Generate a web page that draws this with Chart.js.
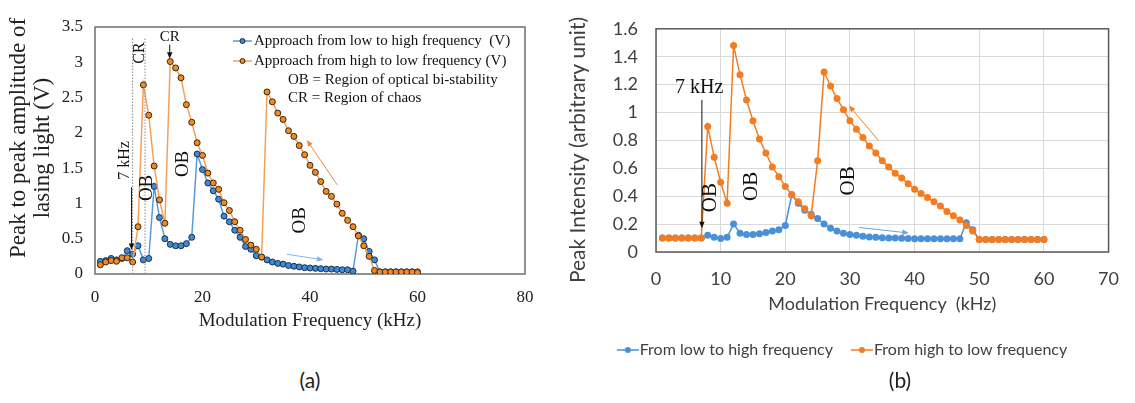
<!DOCTYPE html>
<html lang="en">
<head>
  <meta charset="UTF-8">
  <title>Modulation frequency response</title>
  <style>
    body {
      margin: 0;
      background: #fff;
      width: 1135px;
      height: 403px;
      position: relative;
      overflow: hidden;
    }
    #chartA { position: absolute; left: 0; top: 0; }
    #chartB { position: absolute; left: 560px; top: 0; }
    .tag {
      position: absolute;
      top: 367px;
      width: 60px;
      text-align: center;
      font-family: Lato, "Open Sans", sans-serif;
      font-size: 21px;
      color: #222;
    }
  </style>
</head>
<body>
  <canvas id="chartA" width="560" height="340"></canvas>
  <canvas id="chartB" width="575" height="368"></canvas>
  <div class="tag" style="left:280px">(a)</div>
  <div class="tag" style="left:870px">(b)</div>

  <script src="https://cdn.jsdelivr.net/npm/chart.js"></script>
  <script>
    // modulation frequency (kHz), same steps for both panels
    const freq = [1, 2, 3, 4, 5, 6, 7, 8, 9, 10,
                  11, 12, 13, 14, 15, 16, 17, 18, 19, 20,
                  21, 22, 23, 24, 25, 26, 27, 28, 29, 30,
                  31, 32, 33, 34, 35, 36, 37, 38, 39, 40,
                  41, 42, 43, 44, 45, 46, 47, 48, 49, 50,
                  51, 52, 53, 54, 55, 56, 57, 58, 59, 60];

    // (a) peak to peak amplitude (V)
    const ampLowHigh = [0.18, 0.19, 0.22, 0.20, 0.22, 0.33, 0.28, 0.40, 0.20, 0.22,
                        1.24, 0.80, 0.50, 0.42, 0.40, 0.40, 0.43, 0.52, 1.70, 1.48,
                        1.29, 1.18, 1.06, 0.82, 0.74, 0.62, 0.52, 0.39, 0.35, 0.26,
                        0.24, 0.20, 0.17, 0.15, 0.14, 0.12, 0.11, 0.10, 0.09, 0.085,
                        0.08, 0.075, 0.07, 0.07, 0.065, 0.06, 0.06, 0.04, 0.55, 0.50,
                        0.32, 0.20, 0.03, 0.03, 0.03, 0.03, 0.03, 0.03, 0.03, 0.03];
    const ampHighLow = [0.13, 0.17, 0.19, 0.18, 0.23, 0.23, 0.17, 0.67, 2.68, 2.25,
                        1.53, 1.05, 0.72, 3.01, 2.92, 2.78, 2.40, 2.15, 1.86, 1.68,
                        1.43, 1.29, 1.20, 1.01, 0.90, 0.74, 0.62, 0.49, 0.41, 0.35,
                        0.24, 2.58, 2.44, 2.28, 2.19, 2.03, 1.95, 1.82, 1.69, 1.54,
                        1.44, 1.31, 1.17, 1.10, 0.99, 0.86, 0.76, 0.67, 0.54, 0.40,
                        0.25, 0.05, 0.03, 0.03, 0.03, 0.03, 0.03, 0.03, 0.03, 0.02];

    // (b) peak intensity (arbitrary unit)
    const intLowHigh = [0.10, 0.10, 0.10, 0.10, 0.10, 0.10, 0.10, 0.12, 0.105, 0.097,
                        0.105, 0.20, 0.135, 0.125, 0.125, 0.13, 0.14, 0.15, 0.16, 0.19,
                        0.41, 0.35, 0.30, 0.27, 0.24, 0.20, 0.17, 0.15, 0.135, 0.125,
                        0.12, 0.113, 0.108, 0.105, 0.103, 0.10, 0.10, 0.098, 0.097, 0.095,
                        0.095, 0.095, 0.095, 0.095, 0.095, 0.095, 0.095, 0.21, 0.16, 0.09,
                        0.09, 0.09, 0.09, 0.09, 0.09, 0.09, 0.09, 0.09, 0.09, 0.09];
    const intHighLow = [0.10, 0.10, 0.10, 0.10, 0.10, 0.10, 0.10, 0.90, 0.68, 0.50,
                        0.35, 1.48, 1.27, 1.09, 0.94, 0.81, 0.71, 0.61, 0.54, 0.47,
                        0.41, 0.36, 0.31, 0.26, 0.655, 1.29, 1.19, 1.10, 1.02, 0.94,
                        0.88, 0.82, 0.76, 0.71, 0.655, 0.61, 0.565, 0.53, 0.49, 0.45,
                        0.42, 0.39, 0.36, 0.33, 0.29, 0.26, 0.23, 0.19, 0.15, 0.09,
                        0.09, 0.09, 0.09, 0.09, 0.09, 0.09, 0.09, 0.09, 0.09, 0.09];

    // tick labels
    const freqTicksA = [0, 20, 40, 60, 80];
    const ampTicks = [0, 0.5, 1, 1.5, 2, 2.5, 3, 3.5];
    const freqTicksB = [0, 10, 20, 30, 40, 50, 60, 70];
    const intTicks = [0, 0.2, 0.4, 0.6, 0.8, 1, 1.2, 1.4, 1.6];

    const SERIF = '"Liberation Serif", "Times New Roman", serif';
    const SANS = 'Lato, "Open Sans", sans-serif';

    // annotations, placed in data units
    const notesA = [
      { type: 'vline', x: 7, y1: 0, y2: 3.34 },
      { type: 'vline', x: 9.3, y1: 0, y2: 3.34 },
      { type: 'text', x: 5.6, y: 1.61, text: '7 kHz', size: 16, rot: true },
      { type: 'arrow', x1: 6.8, y1: 1.23, x2: 6.8, y2: 0.34, color: '#111' },
      { type: 'text', x: 8.35, y: 3.13, text: 'CR', size: 16, rot: true },
      { type: 'text', x: 13.9, y: 3.36, text: 'CR', size: 15 },
      { type: 'arrow', x1: 13.9, y1: 3.25, x2: 13.9, y2: 3.05, color: '#111' },
      { type: 'text', x: 9.6, y: 1.22, text: 'OB', size: 19, rot: true },
      { type: 'text', x: 16.3, y: 1.56, text: 'OB', size: 19, rot: true },
      { type: 'text', x: 38.1, y: 0.76, text: 'OB', size: 19, rot: true },
      { type: 'arrow', x1: 45.1, y1: 1.26, x2: 39.4, y2: 1.90, color: '#f4883a' },
      { type: 'arrow', x1: 35.7, y1: 0.28, x2: 42.5, y2: 0.20, color: '#7fb5e6' }
    ];
    const notesB = [
      { type: 'text', x: 6.67, y: 1.18, text: '7 kHz', size: 20 },
      { type: 'arrow', x1: 7.1, y1: 1.09, x2: 7.1, y2: 0.17, color: '#111' },
      { type: 'text', x: 8.5, y: 0.39, text: 'OB', size: 21, rot: true },
      { type: 'text', x: 14.7, y: 0.47, text: 'OB', size: 21, rot: true },
      { type: 'text', x: 29.7, y: 0.51, text: 'OB', size: 21, rot: true },
      { type: 'arrow', x1: 34.4, y1: 0.80, x2: 29.85, y2: 1.05, color: '#f47c20' },
      { type: 'arrow', x1: 31.4, y1: 0.176, x2: 39.1, y2: 0.136, color: '#6aa6de' }
    ];

    const pairs = (ys) => freq.map((f, i) => ({ x: f, y: ys[i] }));
    const fixTicks = (list) => (scale) => { scale.ticks = list.map(v => ({ value: v })); };

    function drawArrow(ctx, x1, y1, x2, y2, color) {
      const a = Math.atan2(y2 - y1, x2 - x1);
      const head = 7;
      ctx.strokeStyle = color;
      ctx.fillStyle = color;
      ctx.lineWidth = 1;
      ctx.beginPath();
      ctx.moveTo(x1, y1);
      ctx.lineTo(x2 - Math.cos(a) * head * 0.8, y2 - Math.sin(a) * head * 0.8);
      ctx.stroke();
      ctx.beginPath();
      ctx.moveTo(x2, y2);
      ctx.lineTo(x2 - head * Math.cos(a - 0.4), y2 - head * Math.sin(a - 0.4));
      ctx.lineTo(x2 - head * Math.cos(a + 0.4), y2 - head * Math.sin(a + 0.4));
      ctx.closePath();
      ctx.fill();
    }

    // frame around the plot area, drawn under the series
    const frame = {
      id: 'frame',
      beforeDatasetsDraw(chart, args, opts) {
        const { ctx, chartArea: a } = chart;
        ctx.save();
        ctx.strokeStyle = opts.color;
        ctx.lineWidth = 1.5;
        ctx.strokeRect(a.left, a.top, a.right - a.left, a.bottom - a.top);
        ctx.restore();
      }
    };

    // vertical axis title, placed a little above the axis centre like the original
    const sideTitle = {
      id: 'sideTitle',
      afterDraw(chart, args, opts) {
        const { ctx } = chart;
        ctx.save();
        ctx.font = opts.size + 'px ' + opts.family;
        ctx.fillStyle = opts.color;
        ctx.textAlign = 'center';
        ctx.textBaseline = 'middle';
        opts.lines.forEach((t, i) => {
          ctx.save();
          ctx.translate(opts.x[i], opts.y[i]);
          ctx.rotate(-Math.PI / 2);
          ctx.fillText(t, 0, 0);
          ctx.restore();
        });
        ctx.restore();
      }
    };

    // text labels and arrows over the series
    const notes = {
      id: 'notes',
      afterDatasetsDraw(chart, args, opts) {
        const { ctx, scales: { x, y } } = chart;
        opts.items.forEach(it => {
          ctx.save();
          if (it.type === 'vline') {
            ctx.strokeStyle = '#8a8a8a';
            ctx.lineWidth = 1;
            ctx.setLineDash([1.5, 1.5]);
            ctx.beginPath();
            ctx.moveTo(x.getPixelForValue(it.x), y.getPixelForValue(it.y1));
            ctx.lineTo(x.getPixelForValue(it.x), y.getPixelForValue(it.y2));
            ctx.stroke();
          } else if (it.type === 'arrow') {
            drawArrow(ctx, x.getPixelForValue(it.x1), y.getPixelForValue(it.y1),
              x.getPixelForValue(it.x2), y.getPixelForValue(it.y2), it.color);
          } else {
            ctx.translate(x.getPixelForValue(it.x), y.getPixelForValue(it.y));
            if (it.rot) ctx.rotate(-Math.PI / 2);
            ctx.font = it.size + 'px ' + SERIF;
            ctx.fillStyle = '#111';
            ctx.textAlign = 'center';
            ctx.textBaseline = 'middle';
            ctx.fillText(it.text, 0, 0);
          }
          ctx.restore();
        });
      }
    };

    // legend of panel (a) sits inside the plot, with two extra note lines
    const boxLegend = {
      id: 'boxLegend',
      afterDatasetsDraw(chart) {
        const { ctx, chartArea: a } = chart;
        const rows = [
          { ds: 0, text: 'Approach from low to high frequency  (V)' },
          { ds: 1, text: 'Approach from high to low frequency (V)' },
          { text: 'OB = Region of optical bi-stability' },
          { text: 'CR = Region of chaos' }
        ];
        const rowY = [14, 34, 53, 71];
        ctx.save();
        ctx.font = '15px ' + SERIF;
        ctx.textBaseline = 'middle';
        rows.forEach((r, i) => {
          const yy = a.top + rowY[i];
          if (r.ds !== undefined) {
            const ds = chart.data.datasets[r.ds];
            ctx.strokeStyle = ds.borderColor;
            ctx.lineWidth = 1.5;
            ctx.beginPath();
            ctx.moveTo(a.left + 138, yy);
            ctx.lineTo(a.left + 157, yy);
            ctx.stroke();
            ctx.fillStyle = ds.pointBackgroundColor;
            ctx.strokeStyle = ds.pointBorderColor;
            ctx.lineWidth = 1;
            ctx.beginPath();
            ctx.arc(a.left + 147.5, yy, 2.5, 0, Math.PI * 2);
            ctx.fill();
            ctx.stroke();
            ctx.fillStyle = '#111';
            ctx.fillText(r.text, a.left + 159, yy);
          } else {
            ctx.fillStyle = '#111';
            ctx.fillText(r.text, a.left + 193, yy);
          }
        });
        ctx.restore();
      }
    };

    new Chart(document.getElementById('chartA'), {
      type: 'line',
      data: {
        datasets: [
          {
            label: 'Approach from low to high frequency  (V)',
            data: pairs(ampLowHigh),
            borderColor: '#5b9bd5',
            borderWidth: 1.5,
            pointRadius: 3,
            pointBackgroundColor: '#3d8ad6',
            pointBorderColor: '#1d2f45',
            pointBorderWidth: 1,
            order: 1
          },
          {
            label: 'Approach from high to low frequency (V)',
            data: pairs(ampHighLow),
            borderColor: '#f5a05a',
            borderWidth: 1.5,
            pointRadius: 3,
            pointBackgroundColor: '#f28a22',
            pointBorderColor: '#3b2410',
            pointBorderWidth: 1,
            order: 0
          }
        ]
      },
      options: {
        responsive: false,
        animation: false,
        events: [],
        layout: { padding: { top: 27, right: 35, left: 0, bottom: 0 } },
        scales: {
          x: {
            type: 'linear', min: 0, max: 80,
            afterBuildTicks: fixTicks(freqTicksA),
            afterFit: (s) => { s.height = 66; },
            grid: { display: false, drawTicks: false },
            border: { display: false },
            ticks: { padding: 13, color: '#222', font: { family: SERIF, size: 17 } },
            title: {
              display: true, text: 'Modulation Frequency (kHz)', color: '#222',
              font: { family: SERIF, size: 19 }, padding: { top: 0, bottom: 8 }
            }
          },
          y: {
            type: 'linear', min: 0, max: 3.5,
            afterBuildTicks: fixTicks(ampTicks),
            afterFit: (s) => { s.width = 95; },
            grid: { display: false, drawTicks: false },
            border: { display: false },
            ticks: { padding: 12, color: '#222', font: { family: SERIF, size: 17 }, callback: v => String(v) },
            title: { display: false }
          }
        },
        plugins: {
          legend: { display: false },
          tooltip: { enabled: false },
          frame: { color: '#6e6e6e' },
          notes: { items: notesA },
          sideTitle: {
            lines: ['Peak to peak amplitude of', 'lasing light (V)'],
            x: [19, 43], y: [138, 148],
            size: 23, family: SERIF, color: '#222'
          }
        }
      },
      plugins: [frame, notes, boxLegend, sideTitle]
    });

    // line-with-dot marker for the bottom legend of (b)
    function legendMark(color) {
      const c = document.createElement('canvas');
      c.width = 34;
      c.height = 8;
      const g = c.getContext('2d');
      g.strokeStyle = color;
      g.lineWidth = 1.5;
      g.beginPath();
      g.moveTo(12, 4);
      g.lineTo(34, 4);
      g.stroke();
      g.fillStyle = color;
      g.beginPath();
      g.arc(23, 4, 3, 0, Math.PI * 2);
      g.fill();
      return c;
    }

    const blueB = '#4a90d9';
    const orangeB = '#f47c20';
    const marks = [legendMark(blueB), legendMark(orangeB)];

    new Chart(document.getElementById('chartB'), {
      type: 'line',
      data: {
        datasets: [
          {
            label: 'From low to high frequency',
            data: pairs(intLowHigh),
            borderColor: blueB,
            backgroundColor: blueB,
            borderWidth: 1.5,
            pointRadius: 3.5,
            pointBorderWidth: 0,
            pointBackgroundColor: blueB,
            order: 1
          },
          {
            label: 'From high to low frequency',
            data: pairs(intHighLow),
            borderColor: orangeB,
            backgroundColor: orangeB,
            borderWidth: 1.5,
            pointRadius: 3.5,
            pointBorderWidth: 0,
            pointBackgroundColor: orangeB,
            order: 0
          }
        ]
      },
      options: {
        responsive: false,
        animation: false,
        events: [],
        layout: { padding: { top: 17, right: 16, left: 0, bottom: 0 } },
        scales: {
          x: {
            type: 'linear', min: 0, max: 70,
            afterBuildTicks: fixTicks(freqTicksB),
            afterFit: (s) => { s.height = 77; },
            grid: { color: '#d9d9d9', drawTicks: false },
            border: { display: false },
            ticks: { padding: 16, color: '#404040', font: { family: SANS, size: 18 } },
            title: {
              display: true, text: 'Modulation Frequency  (kHz)', color: '#404040',
              font: { family: SANS, size: 18 }, padding: { top: 0, bottom: 14 }
            }
          },
          y: {
            type: 'linear', min: 0, max: 1.6,
            afterBuildTicks: fixTicks(intTicks),
            afterFit: (s) => { s.width = 96; },
            grid: { color: '#d9d9d9', drawTicks: false },
            border: { display: false },
            ticks: { padding: 18, color: '#404040', font: { family: SANS, size: 18 }, callback: v => String(v) },
            title: { display: false }
          }
        },
        plugins: {
          legend: {
            position: 'bottom',
            labels: {
              usePointStyle: true,
              pointStyleWidth: 20,
              padding: 13,
              color: '#404040',
              font: { family: SANS, size: 16 },
              sort: (a, b) => a.datasetIndex - b.datasetIndex,
              generateLabels: (chart) => Chart.defaults.plugins.legend.labels.generateLabels(chart)
                .map(item => Object.assign(item, { pointStyle: marks[item.datasetIndex] }))
            }
          },
          tooltip: { enabled: false },
          frame: { color: '#595959' },
          notes: { items: notesB },
          sideTitle: {
            lines: ['Peak Intensity (arbitrary unit)'],
            x: [18], y: [150],
            size: 21, family: SANS, color: '#404040'
          }
        }
      },
      plugins: [frame, notes, sideTitle]
    });
  </script>
</body>
</html>
